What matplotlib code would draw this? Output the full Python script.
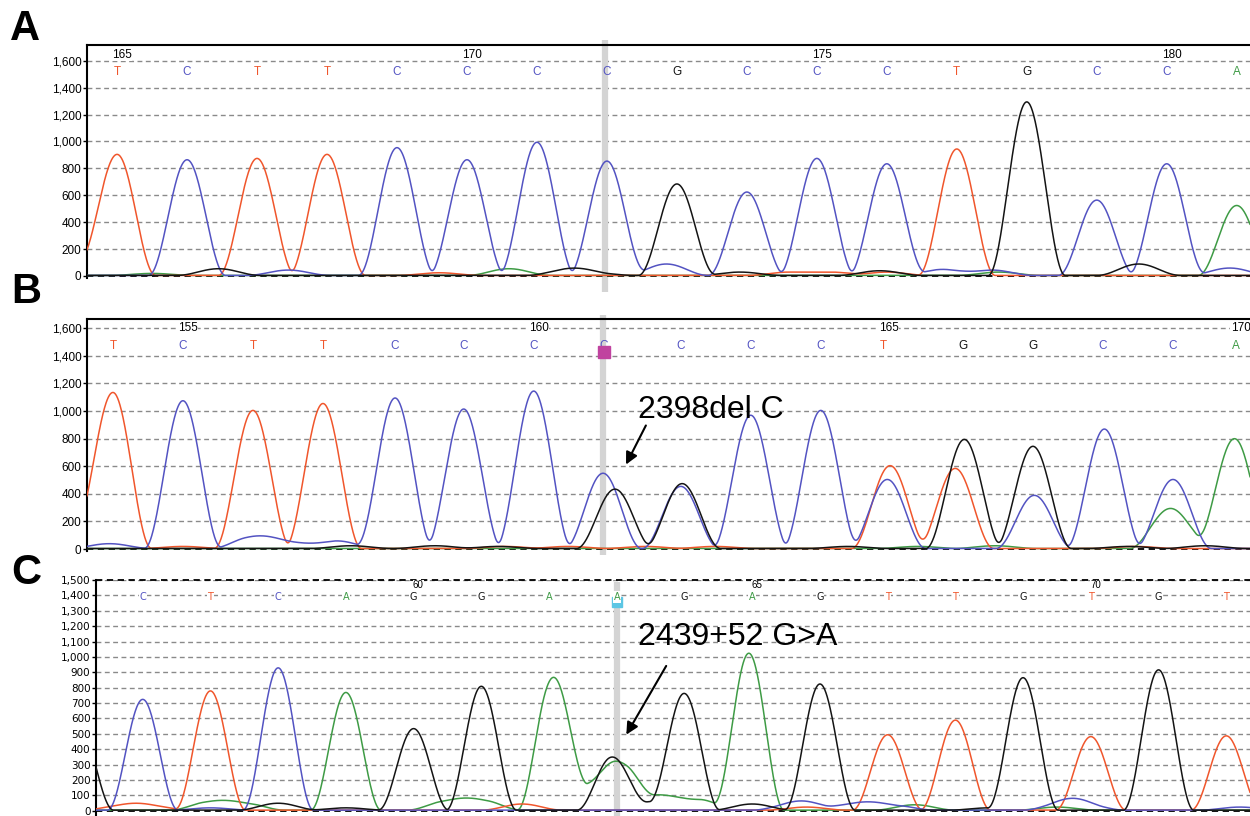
import numpy as np
import matplotlib.pyplot as plt
from matplotlib.ticker import FuncFormatter

plt.rcParams['font.family'] = ['Liberation Sans', 'DejaVu Sans']

base_colors = {'A': '#3e9b45', 'C': '#5353c2', 'G': '#141414', 'T': '#f0562c'}

# ---- panel A : wild type ----
a_first = 165
a_calls = list('TCTTCCCCGCCCTGCCA')
a_call_pos = [165, 166, 167, 168, 169, 170, 171, 172, 173, 174, 175, 176, 177, 178, 179, 180, 181]
a_peak_pos = a_call_pos
a_peak_base = a_calls
a_peak_height = [900, 860, 870, 900, 950, 860, 990, 850, 680, 620, 870, 830, 940, 1290, 560, 830, 520]
a_minor_pos = [164.4, 165.5, 166.45, 167.45, 169.6, 170.6, 171.45, 171.8, 172.85, 173.9, 174.6, 175.2,
               175.9, 176.0, 176.8, 177.5, 177.6, 179.6, 180.9]
a_minor_base = ['T', 'A', 'G', 'C', 'T', 'A', 'G', 'G', 'C', 'G', 'T', 'T',
                'G', 'T', 'C', 'C', 'A', 'G', 'C']
a_minor_height = [110, 15, 50, 40, 20, 50, 45, 20, 85, 25, 25, 25, 35, 25, 45, 40, 25, 85, 55]

# ---- panel B : 2398del C ----
b_first = 154
b_calls = list('TCTTCCCCCCCTGGCCA')
b_call_pos = [154, 155, 156, 157, 158.03, 159.01, 160.01, 161.01, 162.11, 163.11, 164.11,
              165.01, 166.14, 167.14, 168.14, 169.14, 170.04]
b_peak_pos = [154.0, 155.0, 156.0, 157.0, 158.03, 159.01, 160.01, 161.0, 161.17, 162.11, 162.13,
              163.11, 164.11, 165.06, 165.1, 166.03, 166.16, 167.14, 167.16, 168.16, 169.07, 169.14, 170.02]
b_peak_base = ['T', 'C', 'T', 'T', 'C', 'C', 'C', 'C', 'G', 'C', 'G',
               'C', 'C', 'C', 'T', 'T', 'G', 'G', 'C', 'C', 'A', 'C', 'A']
b_peak_height = [1130, 1070, 1000, 1050, 1090, 1010, 1140, 545, 430, 450, 470,
                 965, 1000, 500, 600, 580, 790, 740, 385, 865, 270, 500, 795]
b_minor_pos = [153.4, 153.95, 156.0, 156.5, 157.2, 157.4, 158.6, 159.5, 155.0, 159.6, 160.5, 161.6,
               162.6, 165.5, 166.6, 164.5, 168.5, 169.6, 168.6, 169.45]
b_minor_base = ['T', 'C', 'C', 'C', 'C', 'G', 'G', 'G', 'T', 'T', 'T', 'T',
                'T', 'A', 'A', 'G', 'G', 'G', 'T', 'A']
b_minor_height = [160, 35, 85, 50, 55, 20, 20, 15, 15, 15, 15, 15, 15, 15, 20, 15, 15, 20, 15, 60]

# ---- panel C : 2439+52 G>A ----
c_first = 56
c_calls = list('CTCAGGAAGAGTTGTGT')
c_call_pos = [56, 57, 58, 59, 60, 61, 62, 63, 64, 65, 66, 67, 68, 69, 70, 71, 72]
c_peak_pos = [55.05, 56, 57, 58, 59, 60, 61, 62.05, 62.93, 63.05, 64, 64.95, 66, 67, 68, 69, 70, 71, 72]
c_peak_base = ['G', 'C', 'T', 'C', 'A', 'G', 'G', 'A', 'G', 'A', 'G', 'A', 'G', 'T', 'T', 'G', 'T', 'G', 'T']
c_peak_height = [560, 720, 775, 925, 765, 530, 805, 850, 345, 300, 755, 1020, 820, 490, 585, 860, 478, 912, 483]
c_minor_pos = [55.7, 56.1, 57.0, 57.5, 57.0, 58.0, 59.0, 60.5, 61.0, 61.6, 62.55, 63.6, 64.2, 63.5,
               65.0, 65.6, 65.9, 65.8, 66.6, 67.1, 67.4, 68.5, 69.6, 69.9, 69.5, 72.2]
c_minor_base = ['T', 'T', 'A', 'A', 'C', 'G', 'G', 'A', 'A', 'T', 'A', 'A', 'A', 'G',
                'G', 'C', 'C', 'T', 'C', 'C', 'A', 'G', 'C', 'C', 'A', 'C']
c_minor_height = [30, 30, 55, 45, 15, 45, 15, 60, 65, 40, 170, 100, 70, 55,
                  40, 40, 30, 20, 50, 30, 35, 15, 50, 40, 20, 20]


def fmt(v, p):
    return f'{int(round(v)):,}'


def peak(x, p, h, w):
    # raised-cosine peak shape, zero beyond +-w
    d = np.clip((x - p) / w, -1, 1)
    return h * np.cos(np.pi * d / 2) ** 2


def draw_panel(ax, xlim, ylim, yticks, calls, call_pos, first, pk_pos, pk_base, pk_h,
               mn_pos, mn_base, mn_h, width, letter_y, num_y, small=False, cursor=None):
    ax.set_xlim(*xlim)
    ax.set_ylim(*ylim)
    x = np.linspace(xlim[0], xlim[1], 3000)
    for b in ['A', 'T', 'C', 'G']:
        y = np.zeros_like(x) + 4
        for p, bb, h in zip(pk_pos, pk_base, pk_h):
            if bb == b:
                y += peak(x, p, h, width)
        for p, bb, h in zip(mn_pos, mn_base, mn_h):
            if bb == b:
                y += peak(x, p, h, 0.6)
        ax.plot(x, y, color=base_colors[b], lw=1.1, zorder=3)

    for t in yticks[1:]:
        ax.axhline(t, color='#8a8a8a', lw=1.0, ls=(0, (3.5, 2.5)), zorder=1)
    ax.axhline(0, color='black', lw=1.3, ls=(0, (3.5, 2.5)), zorder=2)
    ax.set_yticks(yticks)
    ax.yaxis.set_major_formatter(FuncFormatter(fmt))
    ax.set_xticks([])
    ax.tick_params(axis='y', length=3, width=1, pad=1,
                   labelsize=7.5 if small else 8.5)
    if small:
        for lab in ax.get_yticklabels():
            lab.set_family('DejaVu Sans')
    for s in ['right', 'bottom']:
        ax.spines[s].set_visible(False)
    ax.spines['left'].set_linewidth(1.5)
    ax.spines['top'].set_linewidth(1.5)

    for i, (c, p) in enumerate(zip(calls, call_pos)):
        ax.text(p, letter_y, c, color=base_colors[c], ha='center', va='center',
                fontsize=7 if small else 8.5,
                family='DejaVu Sans' if small else 'Liberation Sans',
                bbox=dict(fc='white', ec='none', pad=0.5) if small else None, zorder=4)
        n = first + i
        if n % 5 == 0:
            ax.text(p + 0.07, num_y, str(n), ha='center', va='center',
                    fontsize=7 if small else 8.5,
                    bbox=dict(fc='white', ec='none', pad=0.3), zorder=4)

    if cursor is not None:
        ax.plot([cursor[0], cursor[0]], [cursor[1], cursor[2]], transform=ax.get_xaxis_transform(),
                color='#d4d4d4', lw=4.5, clip_on=False, zorder=1.5, solid_capstyle='butt')


fig = plt.figure(figsize=(12.5, 8.16), dpi=100)
fig.patch.set_facecolor('white')

axA = fig.add_axes([87 / 1250, 1 - 278 / 816, 1 - 87 / 1250, 233 / 816])
axB = fig.add_axes([87 / 1250, 1 - 551 / 816, 1 - 87 / 1250, 232 / 816])
axC = fig.add_axes([96 / 1250, 0, 1 - 96 / 1250, 236 / 816])

draw_panel(axA, (164.57, 181.19), (-15, 1717), list(range(0, 1601, 200)),
           a_calls, a_call_pos, a_first, a_peak_pos, a_peak_base, a_peak_height,
           a_minor_pos, a_minor_base, a_minor_height, 0.55, 1517, 1645,
           cursor=(171.97, -0.06, 1.022))
draw_panel(axB, (153.63, 170.24), (-14, 1666), list(range(0, 1601, 200)),
           b_calls, b_call_pos, b_first, b_peak_pos, b_peak_base, b_peak_height,
           b_minor_pos, b_minor_base, b_minor_height, 0.55, 1471, 1598,
           cursor=(161.0, -0.017, 1.017))
draw_panel(axC, (55.31, 72.35), (-34, 1500), list(range(0, 1501, 100)),
           c_calls, c_call_pos, c_first, c_peak_pos, c_peak_base, c_peak_height,
           c_minor_pos, c_minor_base, c_minor_height, 0.52, 1390, 1465, small=True,
           cursor=(63.0, 0.0, 0.99))
axC.spines['top'].set_visible(False)
axC.axhline(1500, color='black', lw=1.3, ls=(0, (3.5, 2.5)), zorder=2, clip_on=False)

# markers at the variant positions
axB.plot(161.01, 1427, marker='s', ms=9, color='#c0429f', zorder=5)
axC.plot(63.0, 1355, marker='s', ms=7, color='#5cc6e4', zorder=3.5)

# annotations
axB.annotate('', xy=(161.31, 594), xytext=(161.63, 913),
             arrowprops=dict(arrowstyle='-|>', color='black', lw=1.5, mutation_scale=18), zorder=6)
axB.text(161.5, 1010, '2398del C', fontsize=23, ha='left', va='center', zorder=6)
axC.annotate('', xy=(63.12, 479), xytext=(63.75, 957),
             arrowprops=dict(arrowstyle='-|>', color='black', lw=1.5, mutation_scale=18), zorder=6)
axC.text(63.31, 1130, '2439+52 G>A', fontsize=23, ha='left', va='center', zorder=6)

for lab, (px, py) in zip(['A', 'B', 'C'], [(25, 29), (26, 292), (26, 573)]):
    fig.text(px / 1250, 1 - py / 816, lab, fontsize=30, weight='bold', ha='center', va='center')

fig.savefig('out.png', dpi=100, facecolor='white')
